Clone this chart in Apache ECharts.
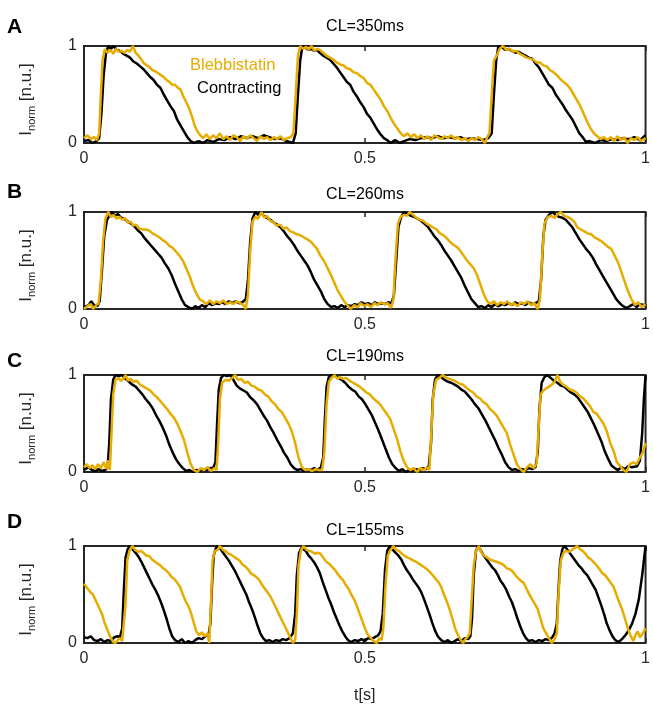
<!DOCTYPE html>
<html>
<head>
<meta charset="utf-8">
<script src="https://cdn.jsdelivr.net/npm/echarts@6/dist/echarts.min.js"></script>
<style>
  html, body { margin: 0; padding: 0; background: #fff; }
  #main { width: 653px; height: 709px; }
</style>
</head>
<body>
<div id="main"></div>
<script>
// panel labels and titles
const panelLetters = ['A', 'B', 'C', 'D'];
const cycleTitles = ['CL=350ms', 'CL=260ms', 'CL=190ms', 'CL=155ms'];
const seriesNames = ['Contracting', 'Blebbistatin'];

// traces: [t (s), I_norm]
const contractingA = [[0,0.02],[0.008,0.03],[0.015,0.0],[0.022,0.02],[0.027,0.05],[0.031,0.3],[0.035,0.7],[0.039,0.92],[0.043,1.0],[0.048,0.97],[0.053,1.0],[0.058,0.96],[0.064,0.95],[0.07,0.92],[0.076,0.9],[0.082,0.88],[0.088,0.84],[0.094,0.82],[0.1,0.79],[0.106,0.76],[0.112,0.72],[0.118,0.68],[0.124,0.65],[0.13,0.6],[0.136,0.57],[0.142,0.5],[0.148,0.44],[0.154,0.38],[0.16,0.33],[0.166,0.24],[0.172,0.18],[0.178,0.12],[0.184,0.06],[0.19,0.02],[0.196,0.0],[0.204,0.02],[0.212,0.0],[0.22,0.03],[0.23,0.01],[0.24,0.04],[0.25,0.03],[0.26,0.06],[0.27,0.04],[0.28,0.07],[0.29,0.05],[0.3,0.07],[0.31,0.05],[0.32,0.08],[0.33,0.06],[0.34,0.04],[0.35,0.05],[0.36,0.02],[0.372,0.0],[0.377,0.1],[0.381,0.5],[0.385,0.85],[0.389,1.0],[0.395,0.98],[0.4,0.96],[0.405,0.97],[0.41,0.95],[0.415,0.96],[0.42,0.93],[0.426,0.9],[0.432,0.88],[0.438,0.86],[0.444,0.82],[0.45,0.78],[0.456,0.73],[0.462,0.68],[0.468,0.63],[0.474,0.6],[0.48,0.53],[0.486,0.48],[0.492,0.42],[0.498,0.37],[0.504,0.3],[0.51,0.26],[0.516,0.2],[0.522,0.14],[0.528,0.09],[0.534,0.05],[0.54,0.03],[0.546,0.0],[0.554,0.03],[0.562,0.0],[0.57,0.02],[0.58,0.04],[0.59,0.03],[0.6,0.05],[0.61,0.06],[0.62,0.05],[0.63,0.07],[0.64,0.05],[0.65,0.06],[0.66,0.05],[0.67,0.06],[0.68,0.04],[0.69,0.05],[0.7,0.04],[0.71,0.03],[0.72,0.05],[0.726,0.1],[0.73,0.5],[0.734,0.85],[0.738,1.0],[0.744,0.99],[0.75,0.96],[0.756,0.97],[0.762,0.95],[0.768,0.93],[0.774,0.94],[0.78,0.92],[0.786,0.9],[0.792,0.88],[0.798,0.87],[0.804,0.82],[0.81,0.78],[0.816,0.72],[0.822,0.66],[0.828,0.6],[0.834,0.57],[0.84,0.5],[0.846,0.45],[0.852,0.4],[0.858,0.34],[0.864,0.29],[0.87,0.24],[0.876,0.17],[0.882,0.1],[0.888,0.06],[0.894,0.01],[0.9,0.02],[0.91,0.0],[0.92,0.03],[0.93,0.02],[0.94,0.04],[0.95,0.03],[0.96,0.05],[0.97,0.04],[0.98,0.06],[0.99,0.03],[1,0.08]];
const blebbistatinA = [[0,0.05],[0.006,0.08],[0.012,0.04],[0.018,0.06],[0.023,0.03],[0.027,0.1],[0.03,0.5],[0.033,0.85],[0.037,0.97],[0.042,0.93],[0.047,0.96],[0.052,0.92],[0.057,0.97],[0.062,0.94],[0.067,0.95],[0.072,0.93],[0.077,0.96],[0.082,0.94],[0.087,1.0],[0.092,0.93],[0.097,0.9],[0.102,0.86],[0.107,0.82],[0.112,0.8],[0.117,0.78],[0.122,0.75],[0.127,0.74],[0.132,0.72],[0.137,0.7],[0.142,0.68],[0.147,0.65],[0.152,0.63],[0.157,0.6],[0.162,0.6],[0.167,0.57],[0.172,0.55],[0.177,0.48],[0.182,0.42],[0.187,0.36],[0.192,0.28],[0.197,0.18],[0.202,0.12],[0.207,0.08],[0.212,0.05],[0.218,0.09],[0.224,0.04],[0.23,0.08],[0.236,0.05],[0.242,0.1],[0.248,0.04],[0.254,0.07],[0.26,0.03],[0.266,0.08],[0.272,0.06],[0.278,0.02],[0.284,0.07],[0.29,0.04],[0.296,0.08],[0.302,0.05],[0.308,0.02],[0.314,0.07],[0.32,0.04],[0.326,0.06],[0.332,0.03],[0.338,0.06],[0.344,0.04],[0.35,0.07],[0.356,0.03],[0.362,0.05],[0.368,0.06],[0.373,0.1],[0.377,0.5],[0.381,0.9],[0.385,1.0],[0.39,0.97],[0.395,0.99],[0.4,0.96],[0.405,1.0],[0.41,0.95],[0.415,0.97],[0.42,0.96],[0.426,0.93],[0.432,0.9],[0.438,0.88],[0.444,0.86],[0.45,0.83],[0.456,0.81],[0.462,0.8],[0.468,0.77],[0.474,0.76],[0.48,0.73],[0.486,0.72],[0.492,0.69],[0.498,0.67],[0.504,0.62],[0.51,0.6],[0.516,0.55],[0.522,0.5],[0.528,0.45],[0.534,0.38],[0.54,0.33],[0.546,0.26],[0.552,0.2],[0.558,0.15],[0.564,0.1],[0.57,0.07],[0.576,0.1],[0.582,0.06],[0.588,0.09],[0.594,0.05],[0.6,0.08],[0.606,0.04],[0.612,0.07],[0.618,0.03],[0.624,0.08],[0.63,0.06],[0.636,0.04],[0.642,0.07],[0.648,0.05],[0.654,0.08],[0.66,0.04],[0.666,0.06],[0.672,0.03],[0.678,0.05],[0.684,0.02],[0.69,0.05],[0.696,0.03],[0.702,0.06],[0.708,0.04],[0.714,0.0],[0.718,0.06],[0.722,0.1],[0.726,0.5],[0.73,0.85],[0.735,0.9],[0.74,0.97],[0.746,1.0],[0.752,0.96],[0.758,0.97],[0.764,0.94],[0.77,0.95],[0.776,0.92],[0.782,0.9],[0.788,0.88],[0.794,0.87],[0.8,0.86],[0.806,0.83],[0.812,0.83],[0.818,0.8],[0.824,0.79],[0.83,0.75],[0.836,0.73],[0.842,0.7],[0.848,0.66],[0.854,0.63],[0.86,0.6],[0.866,0.56],[0.872,0.5],[0.878,0.44],[0.884,0.38],[0.89,0.3],[0.896,0.22],[0.902,0.15],[0.908,0.1],[0.914,0.07],[0.92,0.04],[0.926,0.06],[0.932,0.03],[0.938,0.06],[0.944,0.02],[0.95,0.07],[0.956,0.03],[0.962,0.06],[0.968,0.0],[0.974,0.05],[0.98,0.03],[0.986,0.06],[0.992,0.02],[1,0.05]];

const contractingB = [[0,0.02],[0.008,0.04],[0.013,0.08],[0.018,0.04],[0.024,0.03],[0.028,0.08],[0.032,0.4],[0.036,0.75],[0.041,0.92],[0.046,0.97],[0.05,1.0],[0.055,0.96],[0.06,0.98],[0.066,0.94],[0.072,0.93],[0.078,0.9],[0.084,0.88],[0.09,0.85],[0.096,0.81],[0.102,0.78],[0.108,0.73],[0.114,0.69],[0.12,0.65],[0.126,0.61],[0.132,0.57],[0.138,0.53],[0.144,0.47],[0.15,0.42],[0.156,0.35],[0.162,0.26],[0.168,0.18],[0.174,0.1],[0.18,0.04],[0.186,0.02],[0.192,0.0],[0.198,0.03],[0.204,0.01],[0.21,0.04],[0.216,0.02],[0.222,0.06],[0.228,0.04],[0.234,0.06],[0.24,0.05],[0.246,0.07],[0.252,0.05],[0.258,0.08],[0.264,0.06],[0.27,0.08],[0.276,0.06],[0.282,0.07],[0.288,0.1],[0.292,0.3],[0.296,0.7],[0.3,0.93],[0.305,1.0],[0.31,0.97],[0.315,1.0],[0.32,0.96],[0.326,0.94],[0.332,0.92],[0.338,0.89],[0.344,0.87],[0.35,0.84],[0.356,0.8],[0.362,0.75],[0.368,0.71],[0.374,0.66],[0.38,0.6],[0.386,0.55],[0.392,0.5],[0.398,0.45],[0.404,0.38],[0.41,0.3],[0.416,0.24],[0.422,0.18],[0.428,0.1],[0.434,0.05],[0.44,0.02],[0.446,0.03],[0.452,0.01],[0.458,0.04],[0.464,0.02],[0.47,0.04],[0.476,0.03],[0.482,0.05],[0.488,0.04],[0.494,0.07],[0.5,0.05],[0.506,0.06],[0.512,0.04],[0.518,0.07],[0.524,0.05],[0.53,0.06],[0.536,0.05],[0.542,0.07],[0.548,0.06],[0.552,0.15],[0.556,0.5],[0.56,0.85],[0.565,0.95],[0.57,1.0],[0.576,0.98],[0.582,0.96],[0.588,0.95],[0.594,0.93],[0.6,0.91],[0.606,0.88],[0.612,0.85],[0.618,0.8],[0.624,0.75],[0.63,0.71],[0.636,0.66],[0.642,0.6],[0.648,0.55],[0.654,0.5],[0.66,0.44],[0.666,0.38],[0.672,0.32],[0.678,0.24],[0.684,0.17],[0.69,0.1],[0.696,0.06],[0.702,0.02],[0.708,0.03],[0.714,0.01],[0.72,0.04],[0.726,0.02],[0.732,0.05],[0.738,0.03],[0.744,0.05],[0.75,0.04],[0.756,0.06],[0.762,0.04],[0.768,0.07],[0.774,0.05],[0.78,0.06],[0.786,0.04],[0.792,0.07],[0.798,0.05],[0.804,0.06],[0.81,0.08],[0.814,0.3],[0.818,0.75],[0.822,0.92],[0.828,0.97],[0.834,1.0],[0.84,0.97],[0.846,0.95],[0.852,0.94],[0.858,0.92],[0.864,0.88],[0.87,0.84],[0.876,0.78],[0.882,0.72],[0.888,0.67],[0.894,0.62],[0.9,0.58],[0.906,0.53],[0.912,0.46],[0.918,0.4],[0.924,0.34],[0.93,0.28],[0.936,0.22],[0.942,0.16],[0.948,0.1],[0.954,0.06],[0.96,0.03],[0.966,0.01],[0.972,0.03],[0.978,0.05],[0.984,0.02],[0.99,0.05],[1,0.04]];
const blebbistatinB = [[0,0.0],[0.006,0.03],[0.012,0.05],[0.016,0.0],[0.022,0.04],[0.026,0.06],[0.03,0.3],[0.034,0.7],[0.038,0.93],[0.043,1.0],[0.048,0.95],[0.053,0.97],[0.058,0.93],[0.063,0.95],[0.068,0.92],[0.073,0.94],[0.078,0.89],[0.083,0.9],[0.088,0.86],[0.093,0.87],[0.098,0.83],[0.104,0.82],[0.11,0.82],[0.116,0.81],[0.122,0.78],[0.128,0.76],[0.134,0.74],[0.14,0.71],[0.146,0.69],[0.152,0.65],[0.158,0.63],[0.164,0.59],[0.17,0.55],[0.176,0.5],[0.182,0.42],[0.188,0.34],[0.194,0.24],[0.2,0.16],[0.206,0.1],[0.212,0.08],[0.218,0.05],[0.224,0.09],[0.23,0.05],[0.236,0.08],[0.242,0.06],[0.248,0.09],[0.254,0.05],[0.26,0.07],[0.266,0.05],[0.272,0.08],[0.278,0.06],[0.284,0.04],[0.288,0.0],[0.292,0.15],[0.296,0.6],[0.3,0.9],[0.305,0.95],[0.31,0.93],[0.316,1.0],[0.321,0.94],[0.326,0.96],[0.331,0.91],[0.337,0.9],[0.343,0.86],[0.349,0.87],[0.355,0.83],[0.361,0.84],[0.367,0.8],[0.373,0.79],[0.379,0.77],[0.385,0.76],[0.391,0.74],[0.397,0.72],[0.403,0.7],[0.409,0.66],[0.415,0.62],[0.421,0.55],[0.427,0.5],[0.433,0.43],[0.439,0.36],[0.445,0.28],[0.451,0.2],[0.457,0.14],[0.463,0.08],[0.469,0.04],[0.475,0.0],[0.481,0.04],[0.487,0.02],[0.493,0.06],[0.499,0.03],[0.505,0.05],[0.511,0.02],[0.517,0.06],[0.523,0.04],[0.529,0.07],[0.535,0.05],[0.541,0.06],[0.547,0.01],[0.551,0.1],[0.555,0.55],[0.559,0.88],[0.564,0.95],[0.57,0.97],[0.575,0.96],[0.58,1.0],[0.586,0.97],[0.592,0.94],[0.598,0.92],[0.604,0.91],[0.61,0.88],[0.616,0.86],[0.622,0.84],[0.628,0.82],[0.634,0.78],[0.64,0.76],[0.646,0.73],[0.652,0.69],[0.658,0.66],[0.664,0.64],[0.67,0.6],[0.676,0.55],[0.682,0.5],[0.688,0.46],[0.694,0.42],[0.7,0.35],[0.706,0.25],[0.712,0.15],[0.718,0.08],[0.724,0.05],[0.73,0.08],[0.736,0.04],[0.742,0.07],[0.748,0.05],[0.754,0.08],[0.76,0.04],[0.766,0.06],[0.772,0.03],[0.778,0.07],[0.784,0.05],[0.79,0.08],[0.796,0.04],[0.802,0.06],[0.808,0.0],[0.812,0.1],[0.816,0.55],[0.82,0.88],[0.826,0.95],[0.832,0.96],[0.838,0.94],[0.844,0.98],[0.849,1.0],[0.855,0.96],[0.861,0.95],[0.867,0.93],[0.873,0.9],[0.879,0.84],[0.885,0.82],[0.891,0.8],[0.897,0.78],[0.903,0.77],[0.909,0.74],[0.915,0.72],[0.921,0.7],[0.927,0.67],[0.933,0.64],[0.939,0.62],[0.945,0.55],[0.951,0.48],[0.957,0.38],[0.963,0.28],[0.969,0.18],[0.975,0.1],[0.981,0.04],[0.987,0.07],[0.993,0.02],[1,0.05]];

const contractingC = [[0,0.02],[0.008,0.05],[0.014,0.02],[0.02,0.01],[0.026,0.03],[0.032,0.01],[0.038,0.02],[0.042,0.05],[0.045,0.3],[0.048,0.75],[0.052,0.95],[0.056,1.0],[0.062,0.99],[0.068,1.0],[0.074,0.96],[0.08,0.93],[0.086,0.9],[0.092,0.88],[0.098,0.84],[0.104,0.8],[0.11,0.75],[0.116,0.71],[0.122,0.66],[0.128,0.59],[0.134,0.53],[0.14,0.46],[0.146,0.38],[0.152,0.28],[0.158,0.2],[0.164,0.13],[0.17,0.08],[0.176,0.04],[0.182,0.01],[0.188,0.02],[0.194,0.0],[0.2,0.02],[0.206,0.01],[0.212,0.03],[0.218,0.02],[0.224,0.04],[0.23,0.04],[0.234,0.1],[0.237,0.5],[0.24,0.85],[0.244,0.97],[0.249,1.0],[0.255,0.99],[0.261,1.0],[0.266,0.95],[0.272,0.89],[0.278,0.86],[0.284,0.84],[0.29,0.82],[0.296,0.77],[0.302,0.74],[0.308,0.7],[0.314,0.64],[0.32,0.58],[0.326,0.53],[0.332,0.46],[0.338,0.4],[0.344,0.33],[0.35,0.27],[0.356,0.2],[0.362,0.15],[0.368,0.08],[0.374,0.04],[0.38,0.02],[0.386,0.03],[0.392,0.01],[0.398,0.03],[0.404,0.02],[0.41,0.04],[0.416,0.02],[0.422,0.05],[0.426,0.15],[0.429,0.55],[0.432,0.88],[0.436,0.98],[0.441,1.0],[0.447,0.99],[0.453,0.97],[0.459,0.95],[0.465,0.92],[0.471,0.88],[0.477,0.85],[0.483,0.83],[0.489,0.78],[0.495,0.75],[0.501,0.7],[0.507,0.64],[0.513,0.58],[0.519,0.5],[0.525,0.42],[0.531,0.33],[0.537,0.24],[0.543,0.15],[0.549,0.08],[0.555,0.04],[0.561,0.01],[0.567,0.03],[0.573,0.0],[0.579,0.02],[0.585,0.01],[0.591,0.03],[0.597,0.02],[0.603,0.04],[0.609,0.03],[0.614,0.06],[0.618,0.3],[0.621,0.75],[0.625,0.95],[0.63,1.0],[0.636,0.98],[0.642,0.95],[0.648,0.93],[0.654,0.92],[0.66,0.9],[0.666,0.88],[0.672,0.85],[0.678,0.83],[0.684,0.79],[0.69,0.75],[0.696,0.7],[0.702,0.66],[0.708,0.6],[0.714,0.54],[0.72,0.47],[0.726,0.4],[0.732,0.33],[0.738,0.25],[0.744,0.18],[0.75,0.1],[0.756,0.05],[0.762,0.02],[0.768,0.03],[0.774,0.01],[0.78,0.03],[0.786,0.02],[0.792,0.04],[0.798,0.03],[0.804,0.05],[0.808,0.2],[0.811,0.65],[0.815,0.92],[0.82,0.98],[0.825,1.0],[0.831,0.97],[0.837,0.94],[0.843,0.92],[0.849,0.89],[0.855,0.88],[0.861,0.85],[0.867,0.82],[0.873,0.8],[0.879,0.77],[0.885,0.72],[0.891,0.67],[0.897,0.62],[0.903,0.55],[0.909,0.48],[0.915,0.4],[0.921,0.32],[0.927,0.22],[0.933,0.14],[0.939,0.07],[0.945,0.04],[0.951,0.02],[0.957,0.05],[0.963,0.03],[0.969,0.06],[0.975,0.05],[0.985,0.06],[0.99,0.12],[0.994,0.4],[0.997,0.75],[1,1.0]];
const blebbistatinC = [[0,0.05],[0.005,0.08],[0.01,0.04],[0.015,0.07],[0.02,0.03],[0.025,0.08],[0.03,0.04],[0.035,0.1],[0.04,0.03],[0.043,0.12],[0.046,0.02],[0.049,0.4],[0.052,0.8],[0.056,0.95],[0.061,0.97],[0.066,0.94],[0.071,0.97],[0.074,1.0],[0.078,0.94],[0.083,0.96],[0.088,0.93],[0.094,0.94],[0.1,0.9],[0.106,0.88],[0.112,0.86],[0.118,0.84],[0.124,0.8],[0.13,0.77],[0.136,0.73],[0.142,0.69],[0.148,0.65],[0.154,0.6],[0.16,0.56],[0.166,0.5],[0.172,0.42],[0.178,0.33],[0.184,0.2],[0.19,0.08],[0.196,0.02],[0.202,0.0],[0.208,0.04],[0.214,0.02],[0.22,0.05],[0.226,0.01],[0.232,0.04],[0.236,0.02],[0.239,0.3],[0.242,0.75],[0.246,0.92],[0.252,0.95],[0.258,0.94],[0.264,0.97],[0.269,1.0],[0.274,0.95],[0.28,0.96],[0.286,0.92],[0.292,0.93],[0.298,0.89],[0.304,0.88],[0.31,0.85],[0.316,0.84],[0.322,0.8],[0.328,0.78],[0.334,0.73],[0.34,0.7],[0.346,0.65],[0.352,0.62],[0.358,0.56],[0.364,0.5],[0.37,0.42],[0.376,0.3],[0.382,0.15],[0.388,0.05],[0.394,0.02],[0.4,0.03],[0.406,0.01],[0.412,0.03],[0.418,0.02],[0.424,0.02],[0.428,0.2],[0.432,0.7],[0.436,0.93],[0.441,0.97],[0.446,1.0],[0.451,0.96],[0.456,0.98],[0.461,0.96],[0.467,0.97],[0.473,0.94],[0.479,0.92],[0.485,0.9],[0.491,0.88],[0.497,0.85],[0.503,0.82],[0.509,0.8],[0.515,0.76],[0.521,0.73],[0.527,0.7],[0.533,0.65],[0.539,0.6],[0.545,0.55],[0.551,0.45],[0.557,0.35],[0.563,0.22],[0.569,0.12],[0.575,0.05],[0.581,0.02],[0.587,0.04],[0.593,0.0],[0.599,0.04],[0.605,0.02],[0.611,0.05],[0.615,0.02],[0.618,0.35],[0.622,0.8],[0.627,0.95],[0.633,0.97],[0.639,1.0],[0.645,0.97],[0.651,0.96],[0.657,0.95],[0.663,0.93],[0.669,0.91],[0.675,0.9],[0.681,0.87],[0.687,0.84],[0.693,0.82],[0.699,0.78],[0.705,0.76],[0.711,0.72],[0.717,0.7],[0.723,0.65],[0.729,0.62],[0.735,0.58],[0.741,0.52],[0.747,0.46],[0.753,0.4],[0.759,0.28],[0.765,0.18],[0.771,0.08],[0.777,0.03],[0.783,0.0],[0.789,0.05],[0.795,0.08],[0.801,0.04],[0.806,0.09],[0.809,0.4],[0.813,0.8],[0.818,0.84],[0.823,0.86],[0.828,0.88],[0.833,0.9],[0.838,0.93],[0.843,1.0],[0.848,0.93],[0.853,0.9],[0.859,0.88],[0.865,0.85],[0.871,0.84],[0.877,0.82],[0.883,0.78],[0.889,0.76],[0.895,0.72],[0.901,0.68],[0.907,0.62],[0.913,0.6],[0.919,0.55],[0.925,0.5],[0.931,0.42],[0.937,0.3],[0.943,0.22],[0.949,0.1],[0.955,0.06],[0.961,0.02],[0.966,0.0],[0.972,0.08],[0.978,0.1],[0.984,0.08],[0.99,0.15],[0.995,0.2],[1,0.3]];

const contractingD = [[0,0.06],[0.006,0.05],[0.012,0.07],[0.018,0.03],[0.024,0.02],[0.03,0.04],[0.036,0.01],[0.042,0.03],[0.048,0.02],[0.054,0.06],[0.06,0.07],[0.064,0.06],[0.068,0.15],[0.071,0.55],[0.074,0.88],[0.078,0.97],[0.082,1.0],[0.087,0.96],[0.092,0.93],[0.097,0.89],[0.102,0.84],[0.107,0.78],[0.112,0.72],[0.117,0.66],[0.122,0.6],[0.127,0.55],[0.132,0.49],[0.137,0.42],[0.142,0.34],[0.147,0.25],[0.152,0.15],[0.157,0.07],[0.162,0.03],[0.168,0.01],[0.174,0.04],[0.18,0.0],[0.186,0.02],[0.192,0.0],[0.198,0.03],[0.204,0.05],[0.21,0.04],[0.216,0.07],[0.222,0.09],[0.225,0.2],[0.228,0.6],[0.231,0.9],[0.235,0.98],[0.239,1.0],[0.244,0.96],[0.249,0.92],[0.254,0.88],[0.259,0.84],[0.264,0.79],[0.269,0.74],[0.274,0.68],[0.279,0.62],[0.284,0.56],[0.289,0.5],[0.294,0.42],[0.299,0.35],[0.304,0.27],[0.309,0.18],[0.314,0.1],[0.319,0.05],[0.324,0.02],[0.33,0.03],[0.336,0.01],[0.342,0.03],[0.348,0.02],[0.354,0.04],[0.36,0.03],[0.366,0.05],[0.372,0.1],[0.376,0.3],[0.379,0.7],[0.383,0.93],[0.387,0.98],[0.39,1.0],[0.395,0.95],[0.4,0.9],[0.405,0.87],[0.41,0.83],[0.415,0.78],[0.42,0.72],[0.425,0.63],[0.43,0.55],[0.435,0.47],[0.44,0.4],[0.445,0.32],[0.45,0.25],[0.455,0.18],[0.46,0.12],[0.465,0.07],[0.47,0.03],[0.476,0.01],[0.482,0.03],[0.488,0.02],[0.494,0.04],[0.5,0.02],[0.506,0.05],[0.512,0.04],[0.518,0.06],[0.524,0.08],[0.528,0.12],[0.532,0.3],[0.536,0.75],[0.54,0.95],[0.545,1.0],[0.55,0.96],[0.555,0.93],[0.56,0.9],[0.565,0.86],[0.57,0.8],[0.575,0.75],[0.58,0.71],[0.585,0.66],[0.59,0.62],[0.595,0.58],[0.6,0.53],[0.605,0.46],[0.61,0.38],[0.615,0.3],[0.62,0.21],[0.625,0.13],[0.63,0.07],[0.636,0.03],[0.642,0.01],[0.648,0.03],[0.654,0.0],[0.66,0.02],[0.666,0.04],[0.672,0.02],[0.678,0.05],[0.684,0.04],[0.688,0.07],[0.691,0.25],[0.694,0.7],[0.698,0.95],[0.702,1.0],[0.707,0.95],[0.712,0.9],[0.717,0.86],[0.722,0.82],[0.727,0.78],[0.732,0.75],[0.737,0.7],[0.742,0.64],[0.747,0.6],[0.752,0.55],[0.757,0.48],[0.762,0.42],[0.767,0.34],[0.772,0.25],[0.777,0.17],[0.782,0.1],[0.787,0.05],[0.792,0.02],[0.798,0.03],[0.804,0.01],[0.81,0.03],[0.816,0.02],[0.822,0.04],[0.828,0.03],[0.834,0.06],[0.838,0.1],[0.842,0.2],[0.845,0.55],[0.848,0.85],[0.852,0.97],[0.856,1.0],[0.861,0.96],[0.866,0.92],[0.871,0.88],[0.876,0.84],[0.881,0.8],[0.886,0.77],[0.891,0.73],[0.896,0.7],[0.901,0.65],[0.906,0.6],[0.911,0.55],[0.916,0.47],[0.921,0.39],[0.926,0.3],[0.931,0.2],[0.936,0.13],[0.941,0.07],[0.946,0.03],[0.952,0.01],[0.958,0.04],[0.964,0.08],[0.97,0.13],[0.976,0.2],[0.982,0.3],[0.988,0.45],[0.994,0.7],[1,1.0]];
const blebbistatinD = [[0,0.61],[0.004,0.58],[0.008,0.55],[0.012,0.52],[0.016,0.5],[0.02,0.45],[0.024,0.4],[0.028,0.35],[0.032,0.3],[0.036,0.22],[0.04,0.16],[0.044,0.1],[0.048,0.05],[0.052,0.01],[0.056,0.0],[0.06,0.03],[0.064,0.05],[0.068,0.02],[0.071,0.03],[0.074,0.4],[0.077,0.85],[0.081,0.95],[0.086,1.0],[0.091,0.96],[0.096,0.94],[0.101,0.95],[0.106,0.93],[0.111,0.9],[0.116,0.9],[0.121,0.86],[0.126,0.84],[0.131,0.82],[0.136,0.8],[0.141,0.77],[0.146,0.75],[0.151,0.72],[0.156,0.68],[0.161,0.66],[0.166,0.62],[0.171,0.58],[0.176,0.5],[0.181,0.43],[0.186,0.38],[0.191,0.3],[0.196,0.2],[0.2,0.12],[0.205,0.08],[0.21,0.11],[0.215,0.07],[0.22,0.1],[0.223,0.0],[0.226,0.4],[0.229,0.85],[0.233,0.95],[0.238,0.96],[0.242,1.0],[0.247,0.96],[0.252,0.95],[0.257,0.92],[0.262,0.91],[0.267,0.89],[0.272,0.87],[0.277,0.85],[0.282,0.81],[0.287,0.79],[0.292,0.76],[0.297,0.72],[0.302,0.7],[0.307,0.68],[0.312,0.65],[0.317,0.6],[0.322,0.56],[0.327,0.52],[0.332,0.48],[0.337,0.42],[0.342,0.36],[0.347,0.3],[0.352,0.24],[0.357,0.18],[0.362,0.12],[0.367,0.06],[0.372,0.0],[0.376,0.03],[0.379,0.3],[0.382,0.8],[0.386,0.95],[0.391,1.0],[0.396,0.96],[0.401,0.95],[0.406,0.94],[0.411,0.92],[0.416,0.93],[0.421,0.92],[0.426,0.88],[0.431,0.84],[0.436,0.82],[0.441,0.79],[0.446,0.76],[0.451,0.72],[0.456,0.68],[0.461,0.65],[0.466,0.6],[0.471,0.56],[0.476,0.5],[0.481,0.45],[0.486,0.38],[0.491,0.3],[0.496,0.22],[0.501,0.14],[0.506,0.08],[0.511,0.05],[0.516,0.02],[0.521,0.0],[0.526,0.05],[0.53,0.03],[0.533,0.15],[0.537,0.6],[0.541,0.9],[0.546,0.96],[0.551,1.0],[0.556,0.96],[0.561,0.95],[0.566,0.92],[0.571,0.9],[0.576,0.88],[0.581,0.87],[0.586,0.85],[0.591,0.84],[0.596,0.82],[0.601,0.8],[0.606,0.78],[0.611,0.76],[0.616,0.73],[0.621,0.7],[0.626,0.66],[0.631,0.63],[0.636,0.58],[0.641,0.5],[0.646,0.43],[0.651,0.35],[0.656,0.25],[0.661,0.15],[0.666,0.08],[0.671,0.03],[0.675,0.0],[0.679,0.04],[0.683,0.06],[0.687,0.1],[0.69,0.4],[0.694,0.8],[0.698,0.95],[0.703,1.0],[0.708,0.93],[0.713,0.9],[0.718,0.88],[0.723,0.86],[0.728,0.85],[0.733,0.84],[0.738,0.83],[0.743,0.82],[0.748,0.8],[0.753,0.77],[0.758,0.76],[0.763,0.74],[0.768,0.7],[0.773,0.67],[0.778,0.64],[0.783,0.62],[0.788,0.56],[0.793,0.5],[0.798,0.45],[0.803,0.4],[0.808,0.35],[0.813,0.25],[0.818,0.15],[0.823,0.1],[0.828,0.05],[0.833,0.0],[0.838,0.04],[0.842,0.1],[0.845,0.5],[0.849,0.85],[0.854,0.93],[0.859,0.95],[0.864,0.94],[0.869,0.96],[0.874,0.98],[0.878,1.0],[0.883,0.97],[0.888,0.95],[0.893,0.92],[0.898,0.88],[0.903,0.86],[0.908,0.83],[0.913,0.8],[0.918,0.76],[0.923,0.72],[0.928,0.7],[0.933,0.66],[0.938,0.62],[0.943,0.58],[0.948,0.5],[0.953,0.42],[0.958,0.35],[0.963,0.26],[0.968,0.16],[0.973,0.08],[0.978,0.02],[0.982,0.08],[0.986,0.12],[0.99,0.06],[0.995,0.1],[1,0.15]];

const contracting = [contractingA, contractingB, contractingC, contractingD];
const blebbistatin = [blebbistatinA, blebbistatinB, blebbistatinC, blebbistatinD];

// layout
const gridTops = [46, 212, 375, 546];
const letterTops = [17, 182, 351, 512];
const titleYs = [27, 195, 357, 531];
const gridLeft = 84;
const gridWidth = 562;
const gridHeight = 97;
const axisColor = '#262626';
const orange = '#e6ac00';
const font = '"Liberation Sans", Arial, Helvetica, sans-serif';

const myChart = echarts.init(document.getElementById('main'));

const grids = [];
const xAxes = [];
const yAxes = [];
const series = [];
const graphics = [];

gridTops.forEach((top, i) => {
  grids.push({
    left: gridLeft, top: top, width: gridWidth, height: gridHeight,
    show: true, borderColor: axisColor, borderWidth: 2, backgroundColor: 'transparent'
  });

  const isLast = i === gridTops.length - 1;
  // bottom axis with labels
  xAxes.push({
    type: 'value', gridIndex: i, min: 0, max: 1, interval: 0.5,
    axisLine: { show: false },
    axisTick: { inside: true, length: 5, lineStyle: { color: axisColor, width: 1.5 } },
    axisLabel: { fontSize: 16, color: axisColor, margin: 8, fontFamily: font },
    splitLine: { show: false },
    name: isLast ? 't[s]' : '',
    nameLocation: 'middle',
    nameGap: 45,
    nameTextStyle: { fontSize: 16, color: axisColor, fontFamily: font }
  });
  // top axis, ticks only (box style)
  xAxes.push({
    type: 'value', gridIndex: i, min: 0, max: 1, interval: 0.5, position: 'top',
    axisLine: { show: false },
    axisTick: { inside: true, length: 5, lineStyle: { color: axisColor, width: 1.5 } },
    axisLabel: { show: false },
    splitLine: { show: false }
  });
  yAxes.push({
    type: 'value', gridIndex: i, min: 0, max: 1, interval: 1,
    axisLine: { show: false },
    axisTick: { inside: true, length: 5, lineStyle: { color: axisColor, width: 1.5 } },
    axisLabel: { fontSize: 16, color: axisColor, margin: 7, fontFamily: font },
    splitLine: { show: false },
    name: '{a|I}{b|norm}{a| [n.u.]}',
    nameLocation: 'middle',
    nameGap: 47,
    nameTextStyle: {
      color: axisColor,
      fontFamily: font,
      padding: [0, 10, 0, 0],
      rich: {
        a: { fontSize: 17, lineHeight: 17, verticalAlign: 'bottom', padding: [0, 0, 2, 0], color: axisColor, fontFamily: font },
        b: { fontSize: 11, lineHeight: 11, verticalAlign: 'bottom', color: axisColor, fontFamily: font }
      }
    }
  });

  series.push({
    name: seriesNames[0], type: 'line', xAxisIndex: 2 * i, yAxisIndex: i,
    data: contracting[i], showSymbol: false, symbol: 'none',
    lineStyle: { color: '#000', width: 2.5 }, itemStyle: { color: '#000' }, z: 3
  });
  series.push({
    name: seriesNames[1], type: 'line', xAxisIndex: 2 * i, yAxisIndex: i,
    data: blebbistatin[i], showSymbol: false, symbol: 'none',
    lineStyle: { color: orange, width: 2.5 }, itemStyle: { color: orange }, z: 4
  });

  graphics.push({
    type: 'text', left: 7, top: letterTops[i],
    style: { text: panelLetters[i], font: 'bold 21px ' + font, fill: '#000' }
  });
  graphics.push({
    type: 'text', x: gridLeft + gridWidth / 2, y: titleYs[i],
    style: {
      text: cycleTitles[i], font: '16px ' + font, fill: '#000',
      textAlign: 'center', textVerticalAlign: 'middle', align: 'center', verticalAlign: 'middle'
    }
  });
});

// in-plot legend text (panel A)
graphics.push({
  type: 'text', left: 190, top: 57,
  style: { text: seriesNames[1], font: '16.5px ' + font, fill: orange }
});
graphics.push({
  type: 'text', left: 197, top: 80,
  style: { text: seriesNames[0], font: '16.5px ' + font, fill: '#000' }
});

const option = {
  animation: false,
  backgroundColor: '#fff',
  grid: grids,
  xAxis: xAxes,
  yAxis: yAxes,
  series: series,
  graphic: graphics
};

myChart.setOption(option);
</script>
</body>
</html>
